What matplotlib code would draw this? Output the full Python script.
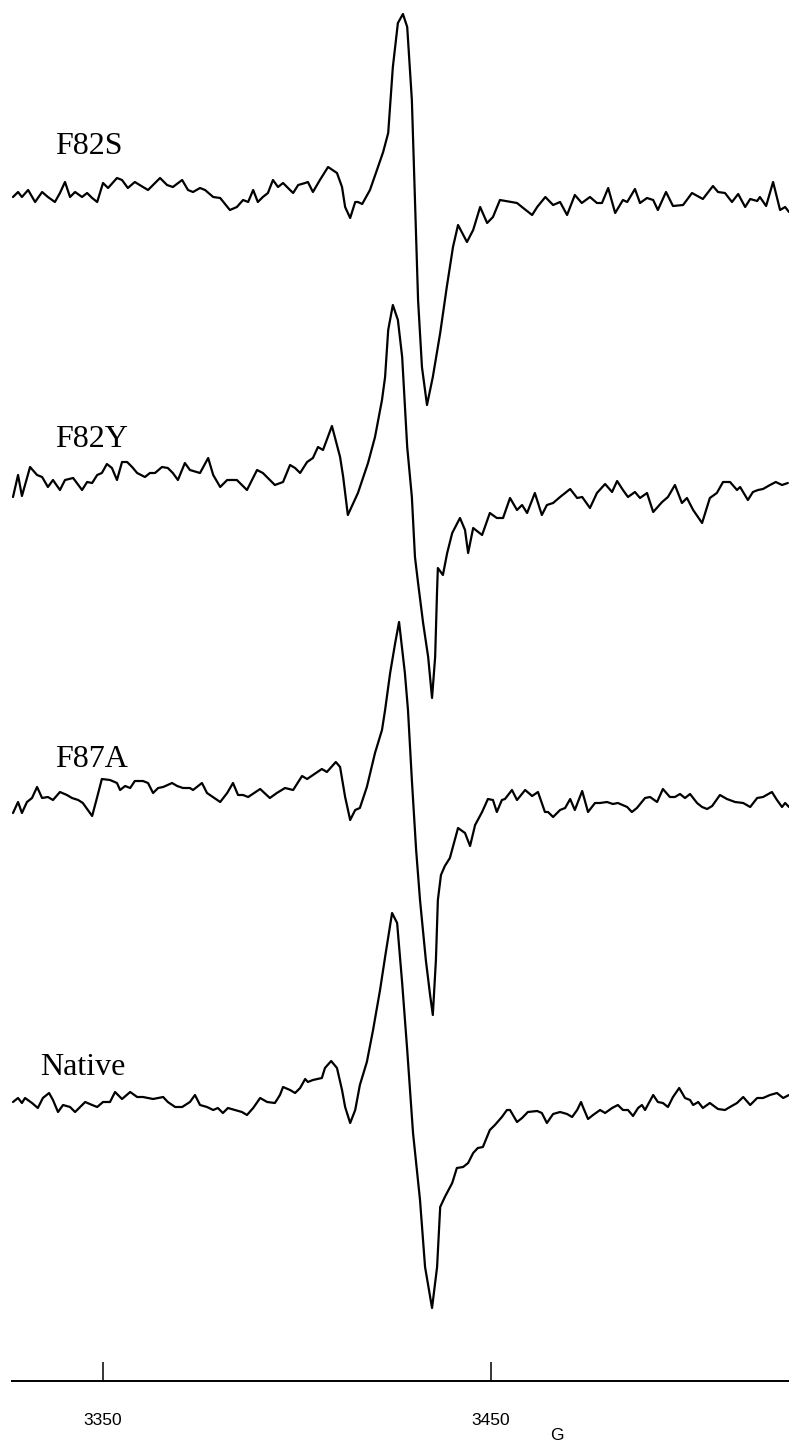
import matplotlib
matplotlib.use("Agg")
import matplotlib.pyplot as plt

# EPR first-derivative spectra, field in gauss, amplitude in arbitrary units
f82s_field = [3326.8, 3328.1, 3329.1, 3330.7, 3332.5, 3334.3, 3335.8, 3337.6, 3338.9, 3340.2,
              3341.5, 3342.8, 3344.6, 3345.9, 3347.2, 3348.5, 3350.0, 3351.3, 3353.6, 3354.9,
              3356.4, 3358.2, 3360.3, 3361.6, 3364.7, 3366.5, 3368.0, 3370.4, 3371.9, 3373.2,
              3375.0, 3376.3, 3378.4, 3380.2, 3382.7, 3384.5, 3386.1, 3387.4, 3388.7, 3389.9,
              3391.2, 3392.5, 3393.8, 3395.1, 3396.4, 3398.2, 3399.0, 3400.3, 3402.1, 3402.8,
              3404.1, 3405.9, 3408.0, 3410.3, 3411.6, 3412.4, 3413.7, 3415.0, 3415.7, 3416.8,
              3418.8, 3420.6, 3422.2, 3423.5, 3424.7, 3426.0, 3427.3, 3428.4, 3429.6, 3430.4,
              3431.2, 3432.2, 3433.5, 3435.0, 3436.9, 3438.6, 3440.2, 3441.5, 3443.8, 3445.4,
              3447.2, 3449.0, 3450.5, 3452.3, 3456.7, 3458.3, 3460.6, 3461.9, 3464.0, 3466.0,
              3467.8, 3469.6, 3471.6, 3473.4, 3475.5, 3477.3, 3478.6, 3480.2, 3482.0, 3484.0,
              3485.1, 3487.1, 3488.4, 3490.2, 3491.8, 3493.0, 3495.1, 3496.9, 3499.5, 3501.8,
              3504.6, 3507.2, 3508.5, 3510.3, 3512.1, 3513.7, 3515.5, 3516.8, 3518.6, 3519.3,
              3520.9, 3522.7, 3524.5, 3525.8, 3526.8]
f82s_signal = [-2, 3, -2, 5, -7, 3, -2, -7, 2, 13,
               -2, 3, -2, 2, -3, -7, 12, 7, 17, 15,
               7, 13, 8, 5, 17, 10, 8, 15, 5, 3,
               7, 5, -2, -3, -15, -12, -5, -7, 5, -7,
               -2, 2, 15, 8, 12, 5, 2, 10, 12, 13,
               3, 15, 28, 22, 8, -12, -23, -7, -7, -9,
               5, 25, 43, 62, 128, 172, 181, 168, 95, -5,
               -105, -172, -210, -182, -138, -92, -52, -30, -47, -35,
               -12, -28, -22, -5, -8, -13, -20, -12, -2, -10,
               -7, -20, 0, -8, -2, -8, -8, 7, -18, -5,
               -7, 6, -8, -3, -5, -15, 3, -11, -10, 2,
               -4, 9, 3, 2, -7, 1, -12, -4, -6, -2,
               -11, 13, -15, -12, -17]

f82y_field = [3326.8, 3328.1, 3329.1, 3331.2, 3333.0, 3334.3, 3335.8, 3337.1, 3338.9, 3340.2,
              3342.3, 3344.6, 3345.9, 3347.2, 3348.5, 3349.7, 3351.0, 3352.3, 3353.6, 3354.9,
              3356.2, 3357.5, 3358.8, 3360.8, 3362.1, 3363.4, 3365.2, 3366.7, 3368.0, 3369.3,
              3371.1, 3372.4, 3375.0, 3377.1, 3378.4, 3380.2, 3382.0, 3384.5, 3387.1, 3389.7,
              3391.2, 3392.5, 3394.3, 3396.4, 3398.2, 3399.5, 3400.8, 3402.6, 3404.1, 3405.4,
              3406.7, 3409.0, 3411.1, 3411.9, 3413.1, 3415.7, 3418.3, 3420.1, 3421.9, 3422.7,
              3423.5, 3424.7, 3426.0, 3427.1, 3428.4, 3429.6, 3430.4, 3431.2, 3432.5, 3433.8,
              3434.8, 3435.6, 3436.1, 3436.3, 3437.6, 3438.7, 3440.0, 3442.0, 3443.3, 3444.1,
              3445.4, 3447.7, 3449.7, 3451.5, 3453.1, 3454.9, 3456.7, 3458.0, 3459.3, 3461.3,
              3463.1, 3464.4, 3466.0, 3467.8, 3470.4, 3472.2, 3473.5, 3475.5, 3477.3, 3479.4,
              3481.2, 3482.5, 3484.0, 3485.3, 3487.1, 3488.4, 3490.2, 3491.8, 3494.1, 3495.6,
              3497.4, 3499.2, 3500.5, 3502.1, 3504.4, 3506.4, 3508.2, 3509.8, 3511.6, 3513.4,
              3514.2, 3516.2, 3517.5, 3518.8, 3520.1, 3521.9, 3523.4, 3525.0, 3526.5]
f82y_signal = [-17, 5, -16, 13, 5, 3, -7, 0, -10, 0,
               2, -10, -2, -3, 5, 7, 16, 12, 0, 18,
               18, 13, 7, 3, 7, 7, 13, 12, 7, 0,
               17, 10, 7, 22, 5, -7, 0, 0, -10, 10,
               7, 2, -5, -2, 15, 12, 7, 18, 22, 33,
               30, 54, 23, 3, -35, -13, 17, 43, 80, 103,
               150, 175, 160, 123, 33, -17, -77, -103, -143, -177,
               -218, -177, -110, -88, -95, -73, -53, -38, -50, -73,
               -48, -55, -33, -38, -38, -18, -30, -25, -33, -13,
               -35, -25, -23, -17, -9, -18, -17, -28, -13, -4,
               -12, -1, -10, -17, -12, -18, -13, -32, -22, -17,
               -5, -23, -18, -30, -43, -18, -13, -2, -2, -10,
               -7, -20, -12, -10, -9, -5, -2, -5, -3]

f87a_field = [3326.8, 3328.1, 3329.1, 3330.4, 3331.7, 3333.0, 3334.3, 3335.8, 3337.1, 3338.9,
              3340.7, 3342.0, 3343.6, 3344.8, 3347.2, 3348.5, 3349.7, 3351.8, 3353.6, 3354.4,
              3355.7, 3357.0, 3358.2, 3360.3, 3361.6, 3362.9, 3364.2, 3365.5, 3367.8, 3369.1,
              3370.6, 3372.4, 3373.2, 3375.5, 3376.8, 3380.2, 3382.0, 3383.5, 3384.8, 3386.1,
              3387.4, 3390.5, 3393.0, 3394.8, 3396.9, 3399.0, 3401.3, 3402.6, 3404.1, 3406.4,
              3407.7, 3410.0, 3411.1, 3412.4, 3413.7, 3415.0, 3416.2, 3418.0, 3420.1, 3421.9,
              3422.7, 3424.0, 3425.3, 3426.3, 3427.8, 3428.6, 3429.6, 3430.7, 3431.7, 3433.2,
              3434.3, 3435.0, 3435.8, 3436.3, 3437.1, 3438.1, 3439.4, 3441.5, 3443.3, 3444.6,
              3445.9, 3447.7, 3449.2, 3450.5, 3451.5, 3452.8, 3453.6, 3455.4, 3456.7, 3458.8,
              3460.6, 3462.1, 3463.9, 3464.7, 3466.0, 3467.8, 3469.1, 3470.4, 3471.6, 3473.5,
              3475.0, 3476.8, 3478.1, 3479.9, 3481.4, 3482.7, 3485.1, 3486.3, 3487.6, 3489.7,
              3491.0, 3492.8, 3494.3, 3496.1, 3497.4, 3498.7, 3500.0, 3501.3, 3503.1, 3504.4,
              3505.7, 3507.0, 3509.0, 3510.8, 3512.9, 3515.0, 3516.8, 3518.6, 3520.1, 3522.4,
              3523.7, 3525.0, 3525.8, 3526.8]
f87a_signal = [-18, -7, -18, -7, -3, 8, -3, -2, -5, 3,
               0, -3, -5, -8, -21, -2, 16, 15, 12, 5,
               9, 7, 14, 14, 12, 2, 7, 8, 12, 9,
               7, 7, 5, 12, 2, -7, 2, 12, 0, 0,
               -2, 6, -3, 2, 7, 5, 19, 16, 20, 26,
               23, 33, 28, -2, -25, -15, -13, 8, 42, 65,
               85, 122, 152, 173, 122, 85, 15, -55, -105, -165,
               -200, -220, -165, -105, -80, -71, -63, -33, -38, -51,
               -30, -17, -4, -5, -17, -5, -4, 5, -5, 5,
               -1, 3, -17, -17, -22, -15, -13, -4, -15, 4,
               -17, -8, -8, -7, -9, -8, -12, -17, -13, -3,
               -2, -7, 6, -2, -2, 1, -3, 1, -8, -12,
               -14, -11, 0, -4, -7, -8, -12, -3, -2, 3,
               -5, -12, -8, -12]

native_field = [3326.8, 3328.1, 3329.1, 3329.9, 3331.7, 3333.2, 3334.5, 3336.1, 3337.1, 3338.4,
                3339.7, 3341.5, 3342.8, 3344.1, 3345.4, 3347.2, 3348.5, 3350.0, 3351.8, 3353.1,
                3354.9, 3357.0, 3358.8, 3360.3, 3362.9, 3365.5, 3366.7, 3368.6, 3370.4, 3372.4,
                3373.7, 3375.0, 3376.8, 3378.4, 3379.6, 3380.9, 3382.2, 3384.0, 3385.8, 3387.1,
                3388.7, 3390.5, 3392.3, 3394.3, 3395.6, 3396.4, 3398.2, 3399.5, 3400.8, 3402.1,
                3402.8, 3404.1, 3406.4, 3407.2, 3408.8, 3410.3, 3411.6, 3412.4, 3413.7, 3415.0,
                3416.2, 3418.0, 3419.6, 3421.4, 3422.7, 3424.5, 3425.8, 3427.1, 3428.4, 3429.9,
                3431.7, 3433.0, 3434.8, 3436.1, 3436.9, 3438.1, 3440.0, 3441.2, 3442.8, 3444.1,
                3445.4, 3446.6, 3447.9, 3449.7, 3451.0, 3452.8, 3454.1, 3454.9, 3456.7, 3458.0,
                3459.5, 3461.9, 3463.1, 3464.4, 3466.0, 3467.8, 3469.6, 3470.9, 3472.2, 3473.2,
                3473.7, 3475.0, 3476.3, 3478.1, 3479.4, 3481.2, 3482.7, 3484.0, 3485.3, 3486.6,
                3487.9, 3488.9, 3489.7, 3491.8, 3493.0, 3494.3, 3495.6, 3496.9, 3498.5, 3500.0,
                3501.3, 3502.1, 3503.4, 3504.6, 3506.4, 3508.5, 3510.3, 3511.6, 3513.4, 3515.0,
                3516.8, 3518.6, 3520.1, 3521.9, 3523.7, 3525.3, 3526.8]
native_signal = [-2, 2, -3, 2, -3, -8, 2, 7, 0, -12,
                 -5, -7, -12, -7, -2, -5, -7, -2, -2, 8,
                 1, 8, 3, 3, 1, 3, -2, -7, -7, -2,
                 5, -5, -7, -10, -8, -13, -8, -10, -12, -15,
                 -8, 2, -2, -3, 5, 13, 10, 7, 12, 21,
                 18, 20, 22, 32, 39, 32, 10, -7, -23, -10,
                 15, 38, 70, 110, 143, 187, 177, 117, 50, -33,
                 -100, -167, -208, -167, -107, -97, -83, -68, -67, -63,
                 -53, -48, -47, -30, -25, -17, -10, -10, -22, -18,
                 -12, -11, -13, -23, -14, -12, -14, -17, -10, -2,
                 -7, -19, -15, -10, -13, -8, -5, -10, -10, -16,
                 -8, -5, -10, 5, -2, -3, -7, 3, 12, 2,
                 0, -5, -2, -8, -3, -9, -10, -7, -3, 3,
                 -5, 2, 2, 5, 7, 2, 5]

names = ["F82S", "F82Y", "F87A", "Native"]
tick_fields = [3350, 3450]

traces = [(f82s_field, f82s_signal), (f82y_field, f82y_signal),
          (f87a_field, f87a_signal), (native_field, native_signal)]
# vertical stacking (baseline of each trace) and label anchors
offsets = [-195, -480, -795, -1100]
label_pos = [(3337.6, -154), (3337.6, -447), (3337.6, -767), (3333.8, -1075)]

fig = plt.figure(figsize=(7.89, 14.43), dpi=100)
ax = fig.add_axes([0, 0, 1, 1])
ax.set_xlim(3323.45, 3526.8)
ax.set_ylim(-1443, 0)

for (fld, sig), off, name, (lx, ly) in zip(traces, offsets, names, label_pos):
    ax.plot(fld, [s + off for s in sig], color="black", lw=1.6,
            solid_joinstyle="round", solid_capstyle="round")
    ax.text(lx, ly, name, fontsize=23, family="Liberation Serif",
            va="baseline", ha="left")

# field axis at the bottom
for s in ["left", "right", "top"]:
    ax.spines[s].set_visible(False)
ax.spines["bottom"].set_position(("data", -1381))
ax.spines["bottom"].set_bounds(3326.5, 3526.8)
ax.spines["bottom"].set_linewidth(1.4)
ax.set_xticks(tick_fields)
ax.set_xticklabels([str(t) for t in tick_fields], family="Liberation Sans",
                   fontsize=12.5)
ax.tick_params(axis="x", direction="in", length=14, width=1.1, pad=23)
ax.set_yticks([])
ax.text(3467.0, -1436, "G", family="Liberation Sans", fontsize=12.5,
        ha="center", va="center")

fig.savefig("out.png", dpi=100)
